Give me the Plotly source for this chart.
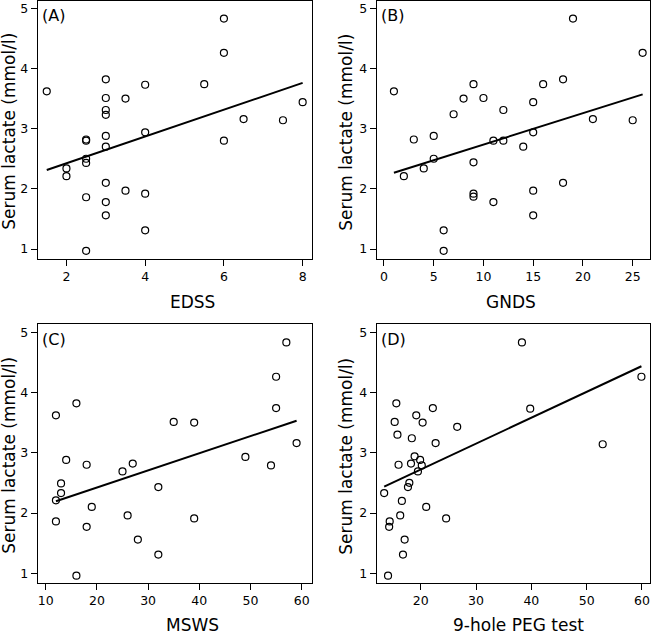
import numpy as np
import plotly.graph_objects as go

# Serum lactate (mmol/l) against four disability scores
edss = [1.5, 2, 2, 2.5, 2.5, 2.5, 2.5, 2.5, 2.5, 3, 3, 3, 3, 3, 3, 3, 3, 3,
        3.5, 3.5, 4, 4, 4, 4, 5.5, 6, 6, 6, 6.5, 7.5, 8]
lactate_edss = [3.62, 2.34, 2.21, 2.82, 2.80, 2.50, 2.43, 1.86, 0.97, 3.82, 3.51,
                3.31, 3.23, 2.88, 2.70, 2.10, 1.78, 1.56, 3.50, 1.97, 3.73, 2.94,
                1.92, 1.31, 3.74, 4.83, 4.26, 2.80, 3.16, 3.14, 3.44]

gnds = [1, 2, 3, 4, 5, 5, 6, 6, 7, 8, 9, 9, 9, 9, 10, 11, 11, 12, 12, 14, 15, 15,
        15, 15, 16, 18, 18, 19, 21, 25, 26]
lactate_gnds = [3.62, 2.21, 2.82, 2.34, 2.88, 2.50, 1.31, 0.97, 3.24, 3.50, 3.74,
                2.44, 1.92, 1.87, 3.51, 2.80, 1.78, 3.31, 2.80, 2.70, 3.44, 2.94,
                1.97, 1.56, 3.74, 3.82, 2.10, 4.83, 3.16, 3.14, 4.26]

msws = [12, 12, 12, 13, 13, 14, 16, 16, 18, 18, 19, 25, 26, 27, 28, 32, 32, 35,
        39, 39, 49, 54, 55, 55, 57, 59]
lactate_msws = [3.62, 2.21, 1.86, 2.49, 2.33, 2.88, 3.82, 0.96, 2.80, 1.77, 2.10,
                2.69, 1.96, 2.82, 1.56, 2.43, 1.31, 3.51, 3.50, 1.91, 2.93, 2.79,
                3.74, 4.26, 4.83, 3.16]

peg = [13.4, 14.1, 14.4, 14.3, 15.3, 15.6, 15.8, 16.0, 16.3, 16.6, 16.8, 17.1,
       17.7, 17.95, 18.25, 18.4, 18.9, 19.2, 19.5, 19.9, 20.2, 20.35, 21.0, 22.2,
       22.7, 24.6, 26.6, 38.3, 39.8, 52.9, 59.9]
lactate_peg = [2.33, 0.96, 1.86, 1.77, 3.51, 3.82, 3.30, 2.80, 1.96, 2.20, 1.31,
               1.56, 2.43, 2.50, 2.82, 3.24, 2.94, 3.62, 2.69, 2.88, 2.79, 3.50,
               2.10, 3.74, 3.16, 1.91, 3.43, 4.83, 3.73, 3.14, 4.26]

panels = [
    ("(A)", "EDSS", edss, lactate_edss, [2, 4, 6, 8]),
    ("(B)", "GNDS", gnds, lactate_gnds, [0, 5, 10, 15, 20, 25]),
    ("(C)", "MSWS", msws, lactate_msws, [10, 20, 30, 40, 50, 60]),
    ("(D)", "9-hole PEG test", peg, lactate_peg, [20, 30, 40, 50, 60]),
]

W, H = 651, 636
FONT = "DejaVu Sans"

# box positions in pixels (left, right, top, bottom)
boxes = [(37.7, 311.7, 0.5, 259), (376.7, 650, 0.5, 259),
         (37.7, 311.7, 324.3, 583.3), (376.7, 650, 324.3, 583.3)]
xranges = [[1.27, 8.23], [-0.73, 26.74], [8.44, 61.95], [12.05, 61.45]]
yrange = [0.834, 5.13]
xtitle_pos = [(192, 302), (511, 302), (192.5, 624.5), (518.5, 624.5)]
ytitle_x = [9, 346, 9, 346]

fig = go.Figure()
layout = dict(width=W, height=H, margin=dict(l=0, r=0, t=0, b=0),
              plot_bgcolor="white", paper_bgcolor="white", showlegend=False,
              font=dict(family=FONT, color="black"))
annotations = []

for i, (label, name, xs, ys, ticks) in enumerate(panels):
    n = "" if i == 0 else str(i + 1)
    xa, ya = "x" + n, "y" + n
    x = np.array(xs, dtype=float)
    y = np.array(ys, dtype=float)

    fig.add_trace(go.Scatter(x=x, y=y, mode="markers", xaxis=xa, yaxis=ya,
                             marker=dict(symbol="circle-open", size=7, color="black",
                                         line=dict(width=1.2, color="black"))))
    slope, icept = np.polyfit(x, y, 1)
    xl = np.array([x.min(), x.max()])
    fig.add_trace(go.Scatter(x=xl, y=icept + slope * xl, mode="lines", xaxis=xa, yaxis=ya,
                             line=dict(color="black", width=2)))

    l, r, t, b = boxes[i]
    axis_common = dict(showline=True, mirror=True, linecolor="black", linewidth=1,
                       ticks="outside", ticklen=6, tickcolor="black", tickwidth=1,
                       showgrid=False, zeroline=False,
                       tickfont=dict(family=FONT, size=12.5, color="black"))
    layout["xaxis" + n] = dict(axis_common, domain=[l / W, r / W], range=xranges[i],
                               tickvals=ticks, anchor=ya)
    layout["yaxis" + n] = dict(axis_common, domain=[1 - b / H, 1 - t / H], range=yrange,
                               tickvals=[1, 2, 3, 4, 5], anchor=xa)

    annotations.append(dict(text=label, xref=xa + " domain", yref=ya + " domain",
                            x=0, y=1, xanchor="left", yanchor="top", xshift=2, yshift=-4,
                            showarrow=False, font=dict(family=FONT, size=16)))
    tx, ty = xtitle_pos[i]
    annotations.append(dict(text=name, xref="paper", yref="paper", x=tx / W, y=1 - ty / H,
                            xanchor="center", yanchor="middle", showarrow=False,
                            font=dict(family=FONT, size=17)))
    annotations.append(dict(text="Serum lactate (mmol/l)", xref="paper", yref="paper",
                            x=ytitle_x[i] / W, y=1 - ((t + b) / 2 + 2) / H,
                            xanchor="center", yanchor="middle", textangle=-90,
                            showarrow=False, font=dict(family=FONT, size=17)))

layout["annotations"] = annotations
fig.update_layout(**layout)
# the page's default body margin would push the chart off the window
fig.write_html("out.html", config={"displayModeBar": False},
               post_script="document.body.style.margin='0';")
